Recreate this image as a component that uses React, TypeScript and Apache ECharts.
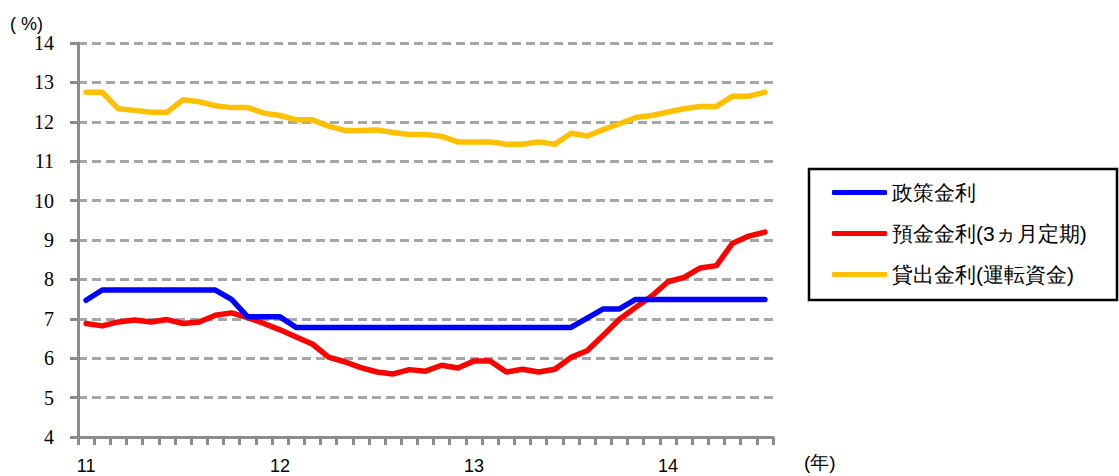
import React, { useEffect, useRef } from "react";
import * as echarts from "echarts";

// Months Jan 2011 – Jul 2014
const months: string[] = [
  "11/01", "11/02", "11/03", "11/04", "11/05", "11/06", "11/07", "11/08", "11/09", "11/10", "11/11", "11/12",
  "12/01", "12/02", "12/03", "12/04", "12/05", "12/06", "12/07", "12/08", "12/09", "12/10", "12/11", "12/12",
  "13/01", "13/02", "13/03", "13/04", "13/05", "13/06", "13/07", "13/08", "13/09", "13/10", "13/11", "13/12",
  "14/01", "14/02", "14/03", "14/04", "14/05", "14/06", "14/07",
];

const policyRate: number[] = [
  7.47, 7.73, 7.73, 7.73, 7.73, 7.73, 7.73, 7.73, 7.73, 7.49, 7.05, 7.05,
  7.05, 6.78, 6.78, 6.78, 6.78, 6.78, 6.78, 6.78, 6.78, 6.78, 6.78, 6.78,
  6.78, 6.78, 6.78, 6.78, 6.78, 6.78, 6.78, 7.02, 7.25, 7.25, 7.49, 7.49,
  7.49, 7.49, 7.49, 7.49, 7.49, 7.49, 7.49,
];

const depositRate: number[] = [
  6.88, 6.82, 6.92, 6.97, 6.92, 6.98, 6.88, 6.92, 7.09, 7.15, 7.03, 6.88,
  6.72, 6.54, 6.36, 6.03, 5.91, 5.76, 5.65, 5.6, 5.71, 5.67, 5.82, 5.75,
  5.93, 5.93, 5.65, 5.72, 5.65, 5.72, 6.02, 6.19, 6.58, 6.99, 7.29, 7.58,
  7.94, 8.05, 8.29, 8.35, 8.92, 9.1, 9.2,
];

const lendingRate: number[] = [
  12.75, 12.75, 12.33, 12.29, 12.24, 12.24, 12.56, 12.51, 12.41, 12.36, 12.36, 12.22,
  12.16, 12.05, 12.05, 11.89, 11.78, 11.78, 11.79, 11.73, 11.68, 11.68, 11.63, 11.49,
  11.49, 11.49, 11.43, 11.43, 11.49, 11.43, 11.71, 11.64, 11.8, 11.95, 12.11, 12.16,
  12.25, 12.33, 12.39, 12.39, 12.65, 12.65, 12.75,
];

const seriesNames: string[] = ["政策金利", "預金金利(3ヵ月定期)", "貸出金利(運転資金)"];
const seriesColors: string[] = ["#0000FF", "#FF0000", "#FFC000"];
const yearLabels: string[] = ["11", "12", "13", "14"];

const SERIF = "serif";
const SANS = "sans-serif";

export default function App() {
  const ref = useRef<HTMLDivElement>(null);
  useEffect(() => {
    document.body.style.margin = "0";
    if (!ref.current) return;
    const chart = echarts.init(ref.current, undefined, { renderer: "svg" });
    const datasets = [policyRate, depositRate, lendingRate];
    chart.setOption({
      animation: false,
      grid: { left: 78, top: 43, width: 695, height: 394, containLabel: false },
      xAxis: {
        type: "category",
        data: months,
        boundaryGap: true,
        axisLine: { lineStyle: { color: "#8C8C8C", width: 3 } },
        axisTick: { show: true, length: 8, interval: 0, lineStyle: { color: "#8C8C8C", width: 3 } },
        axisLabel: {
          interval: (idx: number) => idx % 12 === 0,
          formatter: (v: string) => {
            const y = v.slice(0, 2);
            return yearLabels.includes(y) && v.endsWith("/01") ? y : "";
          },
          margin: 20,
          color: "#000",
          fontSize: 18,
          fontFamily: SANS,
        },
        splitLine: { show: false },
      },
      yAxis: {
        type: "value",
        min: 4,
        max: 14,
        interval: 1,
        axisLine: { show: true, lineStyle: { color: "#8C8C8C", width: 3 } },
        axisTick: { show: true, length: 8, lineStyle: { color: "#8C8C8C", width: 3 } },
        axisLabel: {
          margin: 24,
          color: "#000",
          fontSize: 20,
          fontFamily: SERIF,
        },
        splitLine: {
          show: true,
          lineStyle: { color: "#A6A6A6", width: 3, type: [9, 5] },
        },
      },
      legend: {
        orient: "vertical",
        left: 827,
        top: 177,
        icon: "roundRect",
        itemWidth: 55,
        itemHeight: 5,
        itemGap: 20,
        data: seriesNames,
        textStyle: {
          fontSize: 21,
          color: "#000",
          fontFamily: SANS,
        },
      },
      graphic: [
        {
          type: "rect",
          shape: { x: 809, y: 169, width: 308, height: 131 },
          style: { fill: "none", stroke: "#000", lineWidth: 2.5 },
          z: 10,
        },
        {
          type: "text",
          x: 10,
          y: 15,
          style: { text: "( %)", fontSize: 18, fill: "#000", fontFamily: SANS },
        },
        {
          type: "text",
          x: 804,
          y: 453,
          style: { text: "(年)", fontSize: 19, fill: "#000", fontFamily: SANS },
        },
      ],
      series: seriesNames.map((name, k) => ({
        name,
        type: "line",
        data: datasets[k],
        symbol: "none",
        color: seriesColors[k],
        lineStyle: { color: seriesColors[k], width: 5.5, cap: "round", join: "round" },
        z: 3 + (k === 0 ? 1 : 0),
      })),
    });
    return () => chart.dispose();
  }, []);
  return <div ref={ref} style={{ width: 1119, height: 476 }} />;
}
